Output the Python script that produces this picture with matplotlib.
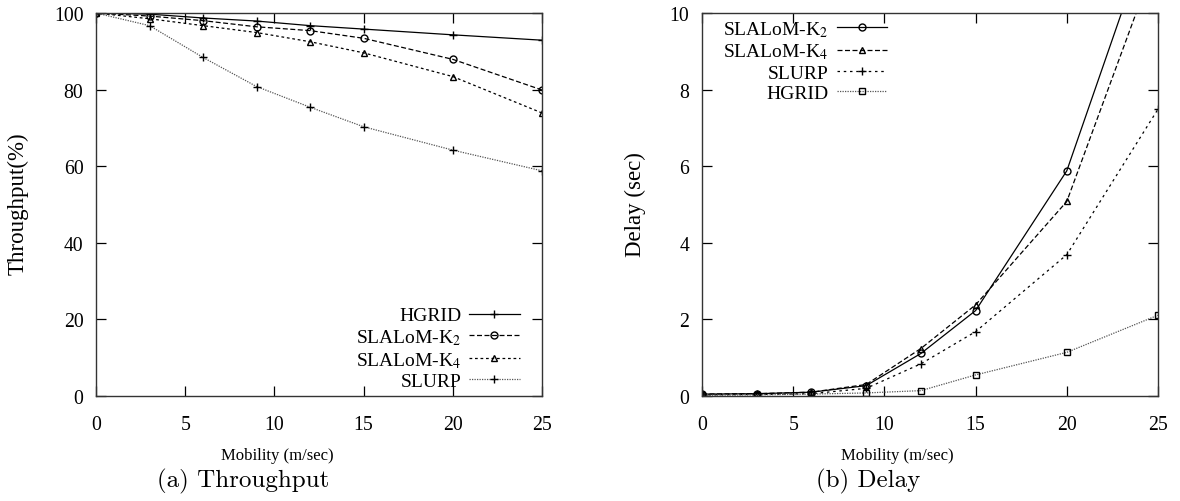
import matplotlib
matplotlib.use("Agg")
import matplotlib.pyplot as plt

plt.rcParams["font.family"] = ["Liberation Serif", "DejaVu Serif"]
plt.rcParams["mathtext.fontset"] = "stix"

mobility = [0, 3, 6, 9, 12, 15, 20, 25]

# throughput (%)
tp_hgrid = [100, 99.7, 98.7, 97.9, 96.7, 95.8, 94.3, 92.9]
tp_k2 = [100, 99.2, 98.0, 96.4, 95.4, 93.4, 87.9, 79.9]
tp_k4 = [100, 98.5, 96.7, 94.9, 92.5, 89.6, 83.4, 73.9]
tp_slurp = [100, 96.7, 88.4, 80.8, 75.4, 70.3, 64.2, 58.8]

# delay (sec)
dl_k2 = [0.05, 0.06, 0.10, 0.27, 1.11, 2.23, 5.88, 12.75]
dl_k4 = [0.05, 0.06, 0.10, 0.30, 1.24, 2.38, 5.08, 11.55]
dl_slurp = [0.03, 0.04, 0.06, 0.20, 0.84, 1.68, 3.69, 7.49]
dl_hgrid = [0.02, 0.03, 0.05, 0.08, 0.14, 0.55, 1.14, 2.11]

label_k2 = "SLALoM-K$_2$"
label_k4 = "SLALoM-K$_4$"

fig = plt.figure(figsize=(11.8, 5.02), dpi=100)
ax1 = fig.add_axes([96 / 1180, 1 - 397 / 502, 446 / 1180, 383 / 502])
ax2 = fig.add_axes([702 / 1180, 1 - 397 / 502, 456 / 1180, 383 / 502])

lw = 0.9
ms = 5
ms_plus = 6

legend_kw = dict(frameon=False, markerfirst=False, fontsize=14,
                 handlelength=2.6, handletextpad=0.4, labelspacing=0.15,
                 borderaxespad=0)


def style_axes(ax, ymax, yticks):
    ax.set_xlim(0, 25)
    ax.set_ylim(0, ymax)
    ax.set_xticks([0, 5, 10, 15, 20, 25])
    ax.set_yticks(yticks)
    ax.tick_params(direction="in", length=7, width=0.9, top=True, right=True,
                   labelsize=14.2, colors="black")
    ax.tick_params(axis="x", pad=13.5)
    ax.tick_params(axis="y", pad=9)
    for s in ax.spines.values():
        s.set_linewidth(1.0)
        s.set_color("#333333")


# (a) throughput
ax1.plot(mobility, tp_hgrid, color="black", lw=lw, marker="+", ms=ms_plus, label="HGRID")
ax1.plot(mobility, tp_k2, color="black", lw=lw, ls=(0, (4, 2)), marker="o", ms=ms,
         mfc="none", label=label_k2)
ax1.plot(mobility, tp_k4, color="black", lw=lw, ls=(0, (2.2, 2.2)), marker="^", ms=ms,
         mfc="none", label=label_k4)
ax1.plot(mobility, tp_slurp, color="#555555", lw=lw, ls=(0, (1, 1)), marker="+",
         ms=ms_plus, mec="black", label="SLURP")
style_axes(ax1, 100, [0, 20, 40, 60, 80, 100])
ax1.legend(loc="lower right", bbox_to_anchor=(0.967, -0.005), **legend_kw)

# (b) delay
ax2.plot(mobility, dl_k2, color="black", lw=lw, marker="o", ms=ms, mfc="none",
         label=label_k2)
ax2.plot(mobility, dl_k4, color="black", lw=lw, ls=(0, (4, 2)), marker="^", ms=ms,
         mfc="none", label=label_k4)
ax2.plot(mobility, dl_slurp, color="black", lw=lw, ls=(0, (2, 3)), marker="+",
         ms=ms_plus, label="SLURP")
ax2.plot(mobility, dl_hgrid, color="#555555", lw=lw, ls=(0, (1, 1)), marker="s", ms=ms,
         mfc="none", mec="black", label="HGRID")
style_axes(ax2, 10, [0, 2, 4, 6, 8, 10])
ax2.legend(loc="upper left", bbox_to_anchor=(0.03, 1.005), **legend_kw)

# axis titles and captions
fig.text(18 / 1180, 1 - 204 / 502, "Throughput(%)", rotation=90, ha="center",
         va="center", fontsize=16.5)
fig.text(635 / 1180, 1 - 205 / 502, "Delay (sec)", rotation=90, ha="center",
         va="center", fontsize=16.5)
fig.text(277 / 1180, 1 - 456 / 502, "Mobility (m/sec)", ha="center", va="center",
         fontsize=12)
fig.text(897 / 1180, 1 - 456 / 502, "Mobility (m/sec)", ha="center", va="center",
         fontsize=12)
fig.text(243 / 1180, 1 - 481 / 502, "(a) Throughput", ha="center", va="center",
         fontsize=18, family="cmr10")
fig.text(868 / 1180, 1 - 481 / 502, "(b) Delay", ha="center", va="center",
         fontsize=18, family="cmr10")

fig.savefig("out.png", dpi=100)
